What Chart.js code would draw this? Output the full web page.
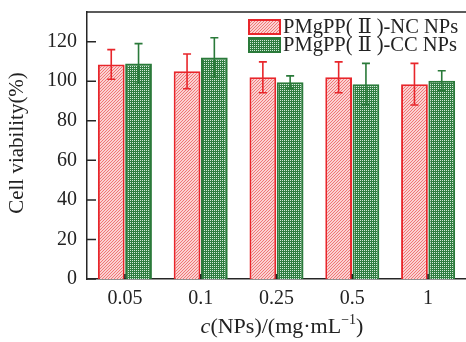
<!DOCTYPE html>
<html>
<head>
<meta charset="utf-8">
<script src="https://cdn.jsdelivr.net/npm/chart.js@4/dist/chart.umd.min.js"></script>
<style>
    html, body { margin: 0; padding: 0; background: #fff; }
    #wrap { width: 466px; height: 342px; position: relative; }
</style>
</head>
<body>
<div id="wrap"><canvas id="chart"></canvas></div>
<script>
const categories = ['0.05', '0.1', '0.25', '0.5', '1'];
const ncValues = [108.5, 105, 102, 102, 98.5];
const ncErrors = [7.5, 8.8, 7.8, 7.8, 10.5];
const ccValues = [109, 112, 99.5, 98.5, 100.3];
const ccErrors = [10, 10, 3.2, 10.5, 5];
const yTicks = [0, 20, 40, 60, 80, 100, 120];

const FONT = '"Liberation Serif", "DejaVu Serif", "Times New Roman", serif';
const AXIS_COLOR = '#262626';

function makeHatch() {
    const c = document.createElement('canvas');
    c.width = 3; c.height = 3;
    const g = c.getContext('2d');
    g.fillStyle = '#fad2d2';
    g.fillRect(0, 0, 3, 3);
    g.fillStyle = '#f07676';
    for (let i = 0; i < 3; i++) g.fillRect(i, 2 - i, 1, 1);
    return g.createPattern(c, 'repeat');
}

function makeDots() {
    const c = document.createElement('canvas');
    c.width = 2; c.height = 2;
    const g = c.getContext('2d');
    g.fillStyle = '#2f7d40';
    g.fillRect(0, 0, 2, 2);
    g.fillStyle = '#d4eadb';
    g.fillRect(0, 0, 1, 1);
    return g.createPattern(c, 'repeat');
}

const hatch = makeHatch();
const dots = makeDots();

// error bars, inward ticks, top frame line, legend and axis titles
const decorations = {
    id: 'decorations',
    afterDatasetsDraw(chart) {
        const ctx = chart.ctx;
        const area = chart.chartArea;
        const x = chart.scales.x;
        const y = chart.scales.y;
        ctx.save();

        const errs = [ncErrors, ccErrors];
        chart.data.datasets.forEach((ds, di) => {
            const meta = chart.getDatasetMeta(di);
            ctx.strokeStyle = ds.borderColor;
            ctx.lineWidth = 1.6;
            meta.data.forEach((bar, i) => {
                const v = ds.data[i];
                const top = y.getPixelForValue(v + errs[di][i]);
                const bot = y.getPixelForValue(v - errs[di][i]);
                ctx.beginPath();
                ctx.moveTo(bar.x, top); ctx.lineTo(bar.x, bot);
                ctx.moveTo(bar.x - 4, top); ctx.lineTo(bar.x + 4, top);
                ctx.moveTo(bar.x - 4, bot); ctx.lineTo(bar.x + 4, bot);
                ctx.stroke();
            });
        });

        ctx.strokeStyle = AXIS_COLOR;
        ctx.lineWidth = 1.5;
        ctx.beginPath();
        yTicks.forEach(t => {
            const py = y.getPixelForValue(t);
            ctx.moveTo(area.left, py); ctx.lineTo(area.left + 9, py);
        });
        categories.forEach((c, i) => {
            const px = x.getPixelForValue(i);
            ctx.moveTo(px, area.bottom); ctx.lineTo(px, area.bottom - 5);
        });
        ctx.moveTo(area.left, area.top); ctx.lineTo(chart.width, area.top);
        ctx.stroke();

        // legend
        ctx.font = '20.5px ' + FONT;
        ctx.textBaseline = 'middle';
        ctx.textAlign = 'left';
        chart.data.datasets.forEach((ds, di) => {
            const bx = 249, by = 20 + di * 18;
            ctx.fillStyle = ds.backgroundColor;
            ctx.fillRect(bx, by, 31, 14);
            ctx.strokeStyle = ds.borderColor;
            ctx.lineWidth = 2;
            ctx.strokeRect(bx, by, 31, 14);
            ctx.fillStyle = '#222';
            ctx.fillText(ds.label, 283, by + 8);
        });

        // y axis title
        ctx.save();
        ctx.translate(17, 143);
        ctx.rotate(-Math.PI / 2);
        ctx.textAlign = 'center';
        ctx.font = '21px ' + FONT;
        ctx.fillText('Cell viability(%)', 0, 0);
        ctx.restore();

        // x axis title with italic c and superscript
        const parts = [
            { t: 'c', f: 'italic 22px ' + FONT, dy: 0 },
            { t: '(NPs)/(mg\u00b7mL', f: '22px ' + FONT, dy: 0 },
            { t: '\u22121', f: '14px ' + FONT, dy: -7 },
            { t: ')', f: '22px ' + FONT, dy: 0 }
        ];
        let w = 0;
        parts.forEach(p => { ctx.font = p.f; w += ctx.measureText(p.t).width; });
        let px = 282 - w / 2;
        ctx.textAlign = 'left';
        parts.forEach(p => {
            ctx.font = p.f;
            ctx.fillText(p.t, px, 327 + p.dy);
            px += ctx.measureText(p.t).width;
        });
        ctx.restore();
    }
};

new Chart(document.getElementById('chart'), {
    type: 'bar',
    data: {
        labels: categories,
        datasets: [
            {
                label: 'PMgPP( \u2161 )-NC NPs',
                data: ncValues,
                backgroundColor: hatch,
                borderColor: '#e8262b',
                borderWidth: 2,
                borderSkipped: 'bottom'
            },
            {
                label: 'PMgPP( \u2161 )-CC NPs',
                data: ccValues,
                backgroundColor: dots,
                borderColor: '#2a7a3a',
                borderWidth: 2,
                borderSkipped: 'bottom'
            }
        ]
    },
    options: {
        responsive: true,
        maintainAspectRatio: false,
        animation: false,
        layout: { padding: { top: 12, right: 0, left: 0, bottom: 0 } },
        categoryPercentage: 0.72,
        barPercentage: 0.98,
        plugins: { legend: { display: false }, tooltip: { enabled: false } },
        scales: {
            x: {
                grid: { display: false, drawTicks: false },
                border: { display: true, color: AXIS_COLOR, width: 1.5 },
                ticks: { color: '#222', font: { family: FONT, size: 20 }, padding: 8, maxRotation: 0 },
                afterFit(scale) { scale.height = 63; scale.paddingLeft = 0; scale.paddingRight = 0; }
            },
            y: {
                min: 0,
                max: 135,
                grid: { display: false, drawTicks: false },
                border: { display: true, color: AXIS_COLOR, width: 1.5 },
                ticks: { color: '#222', font: { family: FONT, size: 20 }, padding: 10 },
                afterBuildTicks(scale) { scale.ticks = yTicks.map(v => ({ value: v })); },
                afterFit(scale) { scale.width = 87; scale.paddingTop = 0; scale.paddingBottom = 0; }
            }
        }
    },
    plugins: [decorations]
});
</script>
</body>
</html>
